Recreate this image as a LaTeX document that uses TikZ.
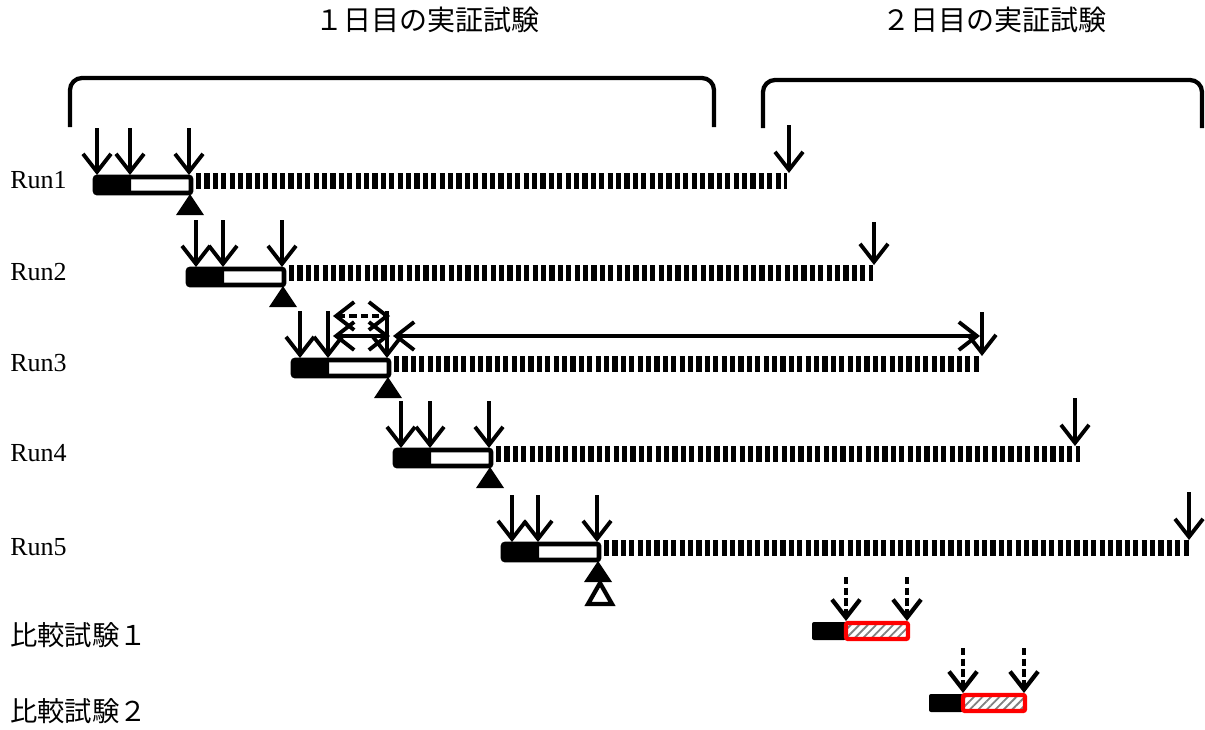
\documentclass[tikz,border=0pt]{standalone}
\usepackage{fontspec}
\setmainfont{Liberation Serif}
\newfontfamily\cjk{Noto Sans CJK JP}
\usetikzlibrary{arrows.meta,patterns.meta}

\begin{document}
\begin{tikzpicture}[x=0.75pt,y=-0.75pt,
  barb/.tip={Straight Barb[length=13.5pt,width=21pt]},
  arr/.style={line width=2.9pt,-barb},
  dblarr/.style={line width=2.9pt,barb-barb},
  cmparr/.style={line width=3.2pt,-barb,dash pattern=on 5.5pt off 2.5pt},
  bracket/.style={line width=3.2pt,rounded corners=9pt},
  barbox/.style={line width=3.4pt,rounded corners=1.5pt},
  trail/.style={line width=12pt,dash pattern=on 3.9pt off 2.4pt},
  runlabel/.style={font=\fontsize{19.5}{22}\selectfont,anchor=base west,inner sep=0pt},
  cmplabel/.style={font=\cjk\fontsize{20.5}{22}\selectfont,anchor=west,inner sep=0pt},
  daytitle/.style={font=\cjk\fontsize{21}{22}\selectfont,inner sep=0pt},
  hatchbox/.style={draw=red,line width=3.2pt,rounded corners=1.5pt,
    pattern={Lines[angle=45,distance=4.5pt,line width=1.4pt]},pattern color=gray}]
\useasboundingbox (0,0) rectangle (1205,729);

% day titles
\node[daytitle] (day1) at (427,20) {１日目の実証試験};
\node[daytitle] (day2) at (994,20) {２日目の実証試験};

% brackets spanning each day
\coordinate (d1-bl) at (70,127);
\coordinate (d1-tl) at (70,78);
\coordinate (d1-tr) at (714,78);
\coordinate (d1-br) at (714,127);
\draw[bracket] (d1-bl) -- (d1-tl) -- (d1-tr) -- (d1-br);
\coordinate (d2-bl) at (763,128);
\coordinate (d2-tl) at (763,80);
\coordinate (d2-tr) at (1202,80);
\coordinate (d2-br) at (1202,128);
\draw[bracket] (d2-bl) -- (d2-tl) -- (d2-tr) -- (d2-br);

% runs: label, bar, three input arrows, trailing dashed line, final arrow, marker
\foreach \i/\xs/\yc/\fo/\xe/\xf/\yf in {
  1/95/185/2/787/789/125,
  2/188/277/8/873/874/222,
  3/293/368/7/980/982/312,
  4/395/458/6/1080/1075/398,
  5/503/552/9/1190/1189/492}{
  \node[runlabel] (lab\i) at (10,{\yc+3}) {Run\i};
  \coordinate (bar\i-nw) at (\xs,{\yc-8});
  \coordinate (bar\i-mid) at ({\xs+36},{\yc+8});
  \coordinate (bar\i-se) at ({\xs+96},{\yc+8});
  \fill[rounded corners=1.5pt] (bar\i-nw) rectangle (bar\i-mid);
  \draw[barbox] (bar\i-nw) rectangle (bar\i-se);
  \foreach \k/\dx in {1/\fo,2/35,3/94}{
    \coordinate (in\i-\k-top) at ({\xs+\dx},{\yc-57});
    \coordinate (in\i-\k-tip) at ({\xs+\dx},{\yc-10});
    \draw[arr] (in\i-\k-top) -- (in\i-\k-tip);
  }
  \coordinate (tr\i-s) at ({\xs+101},{\yc-4});
  \coordinate (tr\i-e) at (\xe,{\yc-4});
  \draw[trail] (tr\i-s) -- (tr\i-e);
  \coordinate (out\i-top) at (\xf,\yf);
  \coordinate (out\i-tip) at (\xf,{\yc-12});
  \draw[arr] (out\i-top) -- (out\i-tip);
  \fill ({\xs+95},{\yc+9}) -- ++(-14,21) -- ++(28,0) -- cycle;
}

% second marker under Run5
\draw[line width=3.2pt,fill=white,line join=miter] (600,583) -- (588,604) -- (612,604) -- cycle;

% interval arrows on Run3
\coordinate (iv-a) at (333,316);
\coordinate (iv-b) at (390,316);
\draw[dblarr,dash pattern=on 5.5pt off 3pt] (iv-a) -- (iv-b);
\coordinate (iv-c) at (333,336);
\coordinate (iv-d) at (390,336);
\draw[dblarr] (iv-c) -- (iv-d);
\coordinate (iv-e) at (393,336);
\coordinate (iv-f) at (980,336);
\draw[dblarr] (iv-e) -- (iv-f);

% comparison tests
\node[cmplabel] (cmp1) at (10,635) {比較試験１};
\node[cmplabel] (cmp2) at (10,711) {比較試験２};
\foreach \j/\xb/\yc/\yt in {1/812/631/577,2/929/703/648}{
  \coordinate (cb\j-nw) at (\xb,{\yc-9});
  \coordinate (cb\j-se) at ({\xb+34},{\yc+9});
  \fill[rounded corners=1.5pt] (cb\j-nw) rectangle (cb\j-se);
  \coordinate (cr\j-nw) at ({\xb+34},{\yc-8});
  \coordinate (cr\j-se) at ({\xb+96},{\yc+8});
  \path[hatchbox] (cr\j-nw) rectangle (cr\j-se);
  \foreach \k/\dx in {1/34,2/95}{
    \coordinate (ca\j-\k-top) at ({\xb+\dx},\yt);
    \coordinate (ca\j-\k-tip) at ({\xb+\dx},{\yc-10});
    \draw[cmparr] (ca\j-\k-top) -- (ca\j-\k-tip);
  }
}
\end{tikzpicture}
\end{document}
